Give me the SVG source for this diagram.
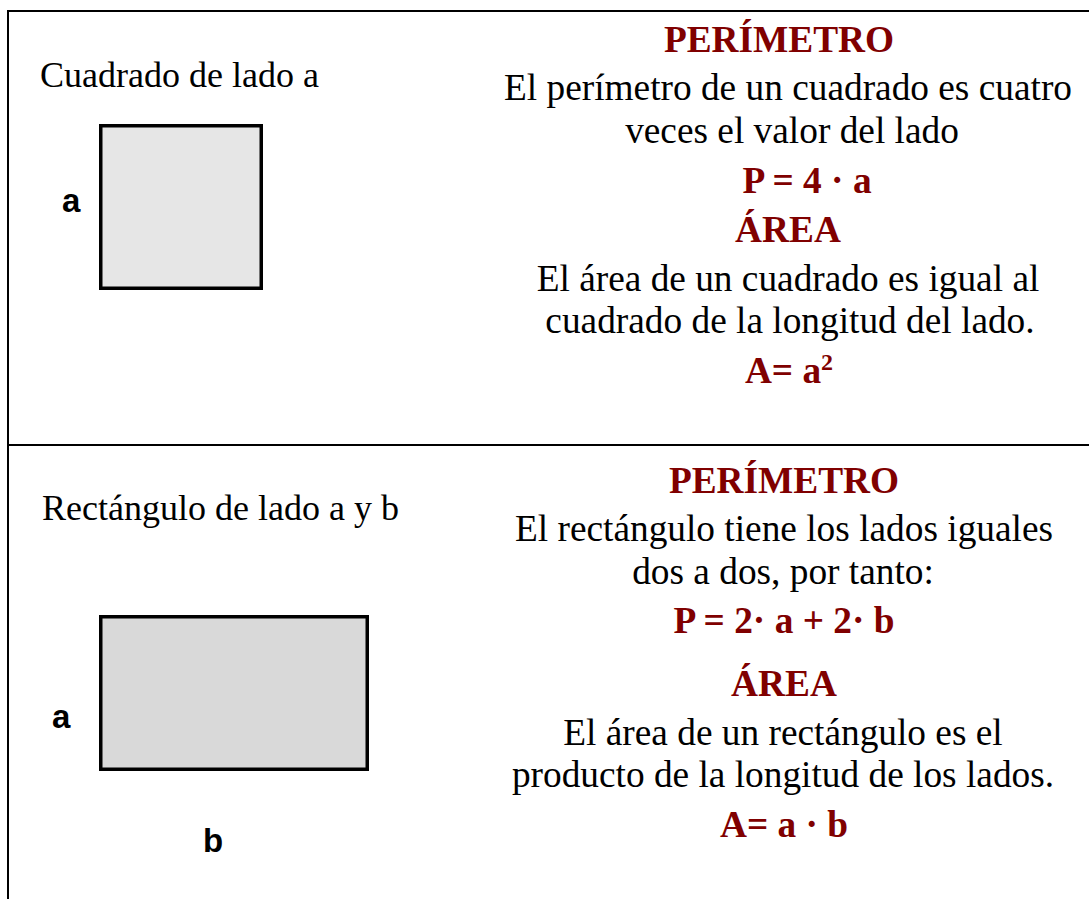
<svg xmlns="http://www.w3.org/2000/svg" width="1089" height="899" viewBox="0 0 1089 899">
<style>
.body{font-family:"Liberation Serif","Times New Roman",serif;font-size:37.33px;fill:#000;text-anchor:middle}
.head{font-family:"Liberation Serif","Times New Roman",serif;font-size:37.33px;font-weight:bold;fill:#800000;text-anchor:middle}
.cap{font-family:"Liberation Serif","Times New Roman",serif;font-size:36px;fill:#000}
.lbl{font-family:"Liberation Sans",Arial,sans-serif;font-size:33px;font-weight:bold;fill:#000}
.grid{stroke:#000;stroke-width:2;fill:none}
.shape{stroke:#000;stroke-width:3.5}
</style>
<rect width="1089" height="899" fill="#fff"/>
<g id="table">
<path class="grid" d="M8 899 V11 H1089 M8 445 H1089"/>
</g>
<g id="square">
<text class="cap" x="40" y="87">Cuadrado de lado a</text>
<rect class="shape" x="100.75" y="125.75" width="160.5" height="162.5" fill="#e6e6e6"/>
<text class="lbl" x="62" y="212">a</text>
</g>
<g id="square-text">
<text class="head" x="779" y="52">PERÍMETRO</text>
<text class="body" x="788" y="100">El perímetro de un cuadrado es cuatro</text>
<text class="body" x="792" y="143">veces el valor del lado</text>
<text class="head" x="807" y="193">P = 4 · a</text>
<text class="head" x="788" y="242">ÁREA</text>
<text class="body" x="788" y="291">El área de un cuadrado es igual al</text>
<text class="body" x="790" y="333">cuadrado de la longitud del lado.</text>
<text class="head" x="789" y="383">A= a<tspan font-size="24" dy="-13">2</tspan></text>
</g>
<g id="rectangle">
<text class="cap" x="42" y="520">Rectángulo de lado a y b</text>
<rect class="shape" x="100.75" y="616.75" width="266.5" height="152.5" fill="#d9d9d9"/>
<text class="lbl" x="52" y="728">a</text>
<text class="lbl" x="203" y="852">b</text>
</g>
<g id="rectangle-text">
<text class="head" x="784" y="493">PERÍMETRO</text>
<text class="body" x="784" y="541">El rectángulo tiene los lados iguales</text>
<text class="body" x="783" y="584">dos a dos, por tanto:</text>
<text class="head" x="784" y="633">P = 2· a + 2· b</text>
<text class="head" x="784" y="696">ÁREA</text>
<text class="body" x="783" y="745">El área de un rectángulo es el</text>
<text class="body" x="783" y="787">producto de la longitud de los lados.</text>
<text class="head" x="784" y="837">A= a · b</text>
</g>
<g id="connectors"/>
</svg>
